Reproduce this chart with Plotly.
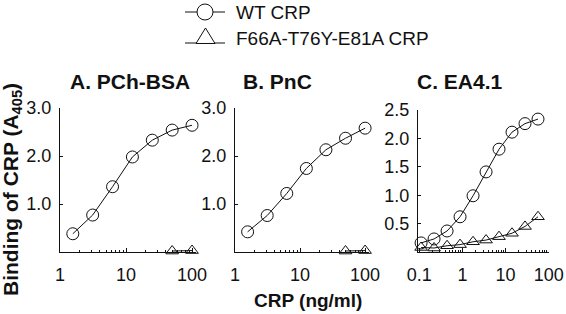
import plotly.graph_objects as go

# ---------------- data ----------------
a_x = [1.5625, 3.125, 6.25, 12.5, 25, 50, 100]
a_wt = [0.38, 0.77, 1.36, 1.98, 2.33, 2.54, 2.64]
a_mut_x = [50, 100]
a_mut = [0.02, 0.03]

b_x = [1.5625, 3.125, 6.25, 12.5, 25, 50, 100]
b_wt = [0.42, 0.76, 1.22, 1.74, 2.13, 2.37, 2.58]
b_mut_x = [50, 100]
b_mut = [0.02, 0.03]

c_x = [0.11, 0.22, 0.44, 0.88, 1.76, 3.52, 7.03, 14.06, 28.13, 56.25]
c_wt = [0.16, 0.23, 0.37, 0.62, 0.99, 1.41, 1.81, 2.11, 2.26, 2.34]
c_mut = [0.08, 0.07, 0.11, 0.13, 0.18, 0.21, 0.27, 0.33, 0.45, 0.62]

panel_titles = ["A. PCh-BSA", "B. PnC", "C. EA4.1"]
series_names = ["WT CRP", "F66A-T76Y-E81A CRP"]
ab_yticks = [1, 2, 3]
ab_yticktext = ["1.0", "2.0", "3.0"]
c_yticks = [0.5, 1.0, 1.5, 2.0, 2.5]
c_yticktext = ["0.5", "1.0", "1.5", "2.0", "2.5"]
ab_xticks = [1, 10, 100]
c_xticks = [0.1, 1, 10, 100]

# ---------------- layout helpers ----------------
W, H = 566, 314
def fx(p):
    return p / W
def fy(p):
    return 1 - p / H

FONT = "Liberation Sans, Arial, sans-serif"
BLACK = "#111111"

fig = go.Figure()

wt_marker = dict(symbol="circle-open", size=12, color=BLACK, line=dict(width=1, color=BLACK))
mut_marker = dict(symbol="triangle-up-open", size=11, color=BLACK, line=dict(width=1, color=BLACK))
line_style = dict(color=BLACK, width=1)

panels = [
    (a_x, a_wt, a_mut_x, a_mut, "x", "y"),
    (b_x, b_wt, b_mut_x, b_mut, "x2", "y2"),
    (c_x, c_wt, c_x, c_mut, "x3", "y3"),
]
for i, (x, wt, mx, mut, xa, ya) in enumerate(panels):
    fig.add_trace(go.Scatter(x=x, y=wt, mode="lines+markers", marker=wt_marker, line=line_style,
                             name=series_names[0], showlegend=False,
                             xaxis=xa, yaxis=ya, cliponaxis=False))
    fig.add_trace(go.Scatter(x=mx, y=mut, mode="lines+markers", marker=mut_marker, line=line_style,
                             name=series_names[1], showlegend=False,
                             xaxis=xa, yaxis=ya, cliponaxis=False))

tickfont = dict(family=FONT, size=18, color=BLACK)

def minor_vals(lo, hi):
    vals = []
    d = lo
    while d < hi:
        for k in range(2, 10):
            vals.append(k * d)
        d *= 10
    return vals

def xaxis(domain, rng, tickvals, anchor, lo, hi):
    return dict(type="log", domain=domain, range=rng, anchor=anchor, automargin=False,
                showline=True, linecolor=BLACK, linewidth=1, mirror=False,
                showgrid=False, zeroline=False,
                ticks="inside", ticklen=4, tickwidth=1, tickcolor=BLACK,
                tickmode="array", tickvals=tickvals, ticktext=[("%g" % v) for v in tickvals],
                tickfont=tickfont, ticklabelstandoff=6,
                minor=dict(ticks="inside", ticklen=2, tickwidth=1, tickcolor=BLACK,
                           tickmode="array", tickvals=minor_vals(lo, hi), showgrid=False))

def yaxis(domain, rng, tickvals, ticktext, anchor):
    return dict(domain=domain, range=rng, anchor=anchor, automargin=False,
                showline=True, linecolor=BLACK, linewidth=1,
                showgrid=False, zeroline=False,
                ticks="inside", ticklen=3, tickwidth=1, tickcolor=BLACK,
                tickmode="array", tickvals=tickvals, ticktext=ticktext,
                tickfont=tickfont, ticklabelstandoff=4)

fig.update_layout(
    template="none",
    width=W, height=H, autosize=False,
    margin=dict(l=0, r=0, t=0, b=0, pad=0),
    paper_bgcolor="white", plot_bgcolor="white",
    font=dict(family=FONT, color=BLACK),
    xaxis=xaxis([fx(60), fx(196)], [0, 2.06], ab_xticks, "y", 1, 100),
    yaxis=yaxis([fy(252), fy(108)], [0, 3], ab_yticks, ab_yticktext, "x"),
    xaxis2=xaxis([fx(235), fx(369)], [0, 2.06], ab_xticks, "y2", 1, 100),
    yaxis2=yaxis([fy(252), fy(108)], [0, 3], ab_yticks, ab_yticktext, "x2"),
    xaxis3=xaxis([fx(418), fx(549)], [-1.03, 2.005], c_xticks, "y3", 0.1, 100),
    yaxis3=yaxis([fy(252), fy(110)], [0, 2.5], c_yticks, c_yticktext, "x3"),
    showlegend=False,
)

# ---- key (legend) drawn at the top, as in the reference ----
key_line = dict(color=BLACK, width=1)
fig.add_shape(type="line", xref="paper", yref="paper",
              x0=fx(185), x1=fx(225), y0=fy(12), y1=fy(12), line=key_line)
fig.add_shape(type="circle", xref="paper", yref="paper",
              x0=fx(197), x1=fx(213), y0=fy(20), y1=fy(4), line=key_line, fillcolor="white")
fig.add_shape(type="line", xref="paper", yref="paper",
              x0=fx(185), x1=fx(225), y0=fy(43), y1=fy(43), line=key_line)
fig.add_shape(type="path", xref="paper", yref="paper",
              path="M %f %f L %f %f L %f %f Z" % (fx(196), fy(43.5), fx(215), fy(43.5), fx(205.5), fy(28)),
              line=key_line, fillcolor="white")
for name, yc in zip(series_names, [12.5, 38.5]):
    fig.add_annotation(text=name, x=fx(234), y=fy(yc), xref="paper", yref="paper",
                       showarrow=False, xanchor="left", yanchor="middle",
                       font=dict(family=FONT, size=19, color=BLACK))

title_centers = [130, 277, 460]
for t, cx in zip(panel_titles, title_centers):
    fig.add_annotation(text="<b>%s</b>" % t, x=fx(cx), y=fy(82), xref="paper", yref="paper",
                       showarrow=False, xanchor="center", yanchor="middle",
                       font=dict(family=FONT, size=21, color=BLACK))

fig.add_annotation(text="<b>Binding of CRP (A<sub>405</sub>)</b>", x=fx(12), y=fy(190),
                   xref="paper", yref="paper", showarrow=False, textangle=-90,
                   xanchor="center", yanchor="middle",
                   font=dict(family=FONT, size=21, color=BLACK))
fig.add_annotation(text="<b>CRP (ng/ml)</b>", x=fx(308), y=fy(300),
                   xref="paper", yref="paper", showarrow=False,
                   xanchor="center", yanchor="middle",
                   font=dict(family=FONT, size=19, color=BLACK))

fig.write_html("out.html", config={"displayModeBar": False},
               post_script="document.body.style.margin='0';document.body.style.overflow='hidden';")
